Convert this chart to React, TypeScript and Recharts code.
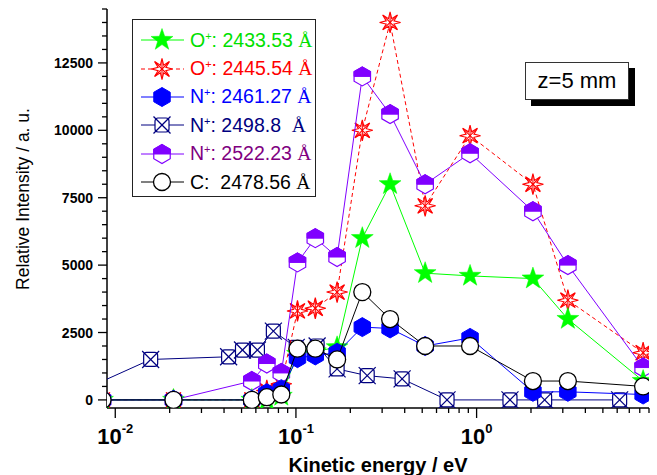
import React from "react";
import { ScatterChart, Scatter, XAxis, YAxis } from "recharts";

// kinetic energy (eV) of the common time-of-flight bins
const energy = [0.0085, 0.021, 0.057, 0.069, 0.083, 0.102, 0.128, 0.169, 0.233, 0.332, 0.519, 0.92, 2.05, 3.2, 8.35];
const o2433 = [0, 0, 0, 0, 150, 1700, 1800, 1950, 6000, 8000, 4700, 4600, 4500, 3000, 700];
const o2445 = [0, 0, 0, 350, 600, 3300, 3400, 4000, 10000, 14000, 7200, 9800, 8000, 3700, 1750];
const n2461 = [0, 0, 0, 250, 400, 1550, 1650, 1750, 2700, 2650, 2000, 2300, 300, 300, 200];
const n2522 = [0, 0, 700, 1350, 1000, 5100, 6000, 5300, 12000, 10600, 8000, 9150, 7000, 5000, 1200];
const c2478 = [0, 0, 0, 100, 200, 1900, 1900, 1500, 4000, 3000, 2000, 2000, 700, 700, 500];

// N+ 2498.8 line was sampled on its own energy grid
const energyN2498 = [0.005, 0.0157, 0.0424, 0.0506, 0.0612, 0.075, 0.1004, 0.131, 0.169, 0.248, 0.387, 0.686, 1.53, 2.38, 6.19];
const n2498 = [0, 1500, 1600, 1850, 1850, 2550, 1950, 2000, 1150, 900, 780, 0, 0, 0, 0];

const xTicks = [
  0.01, 0.02, 0.03, 0.04, 0.05, 0.06, 0.07, 0.08, 0.09,
  0.1, 0.2, 0.3, 0.4, 0.5, 0.6, 0.7, 0.8, 0.9,
  1, 2, 3, 4, 5, 6, 7, 8, 9,
];
const yMajor = [0, 2500, 5000, 7500, 10000, 12500];
const yTicks = Array.from({ length: 30 }, (_, i) => i * 500);

const zip = (xs: number[], ys: number[]) => xs.map((x, i) => ({ x, y: ys[i] }));

type Kind = "star" | "burst" | "hexFull" | "crossBox" | "hexHalf" | "circle";

const series = [
  { name: "N+ 2498.8", label: "N", sup: "+", wl: ": 2498.8  ", kind: "crossBox" as Kind, color: "#000080", text: "#000080", dash: undefined, data: zip(energyN2498, n2498) },
  { name: "O+ 2445.54", label: "O", sup: "+", wl: ": 2445.54 ", kind: "burst" as Kind, color: "#ff0000", text: "#ff0000", dash: "4 3", data: zip(energy, o2445) },
  { name: "N+ 2522.23", label: "N", sup: "+", wl: ": 2522.23 ", kind: "hexHalf" as Kind, color: "#8000ff", text: "#800080", dash: undefined, data: zip(energy, n2522) },
  { name: "O+ 2433.53", label: "O", sup: "+", wl: ": 2433.53 ", kind: "star" as Kind, color: "#00ff00", text: "#00e000", dash: undefined, data: zip(energy, o2433) },
  { name: "N+ 2461.27", label: "N", sup: "+", wl: ": 2461.27 ", kind: "hexFull" as Kind, color: "#0000ff", text: "#0000ff", dash: undefined, data: zip(energy, n2461) },
  { name: "C 2478.56", label: "C", sup: "", wl: ":  2478.56 ", kind: "circle" as Kind, color: "#000000", text: "#000000", dash: undefined, data: zip(energy, c2478) },
];
const legendOrder = ["O+ 2433.53", "O+ 2445.54", "N+ 2461.27", "N+ 2498.8", "N+ 2522.23", "C 2478.56"];

const pts = (arr: number[][]) => arr.map((p) => p.join(",")).join(" ");

function Marker({ kind, color, cx, cy }: { kind: Kind; color: string; cx: number; cy: number }) {
  if (cx == null || cy == null) return null;
  if (kind === "star") {
    const p = Array.from({ length: 10 }, (_, i) => {
      const r = i % 2 === 0 ? 11.5 : 4.6;
      const a = -Math.PI / 2 + (i * Math.PI) / 5;
      return [cx + r * Math.cos(a), cy + r * Math.sin(a)];
    });
    return <polygon points={pts(p)} fill={color} stroke={color} strokeWidth={0.5} />;
  }
  if (kind === "burst") {
    const p = Array.from({ length: 16 }, (_, i) => {
      const r = i % 2 === 0 ? 10.5 : 4.2;
      const a = -Math.PI / 2 + (i * Math.PI) / 8;
      return [cx + r * Math.cos(a), cy + r * Math.sin(a)];
    });
    return (
      <g stroke={color} strokeWidth={1.1}>
        <polygon points={pts(p)} fill="#fff" />
        <line x1={cx - 7} y1={cy - 7} x2={cx + 7} y2={cy + 7} />
        <line x1={cx - 7} y1={cy + 7} x2={cx + 7} y2={cy - 7} />
        <line x1={cx} y1={cy - 9} x2={cx} y2={cy + 9} />
      </g>
    );
  }
  if (kind === "hexFull" || kind === "hexHalf") {
    const R = 9.5;
    const w = R * 0.866;
    const hex = [[cx, cy - R], [cx + w, cy - R / 2], [cx + w, cy + R / 2], [cx, cy + R], [cx - w, cy + R / 2], [cx - w, cy - R / 2]];
    if (kind === "hexFull") return <polygon points={pts(hex)} fill={color} stroke={color} strokeWidth={1} />;
    const top = [[cx, cy - R], [cx + w, cy - R / 2], [cx + w, cy], [cx - w, cy], [cx - w, cy - R / 2]];
    return (
      <g>
        <polygon points={pts(hex)} fill="#fff" stroke={color} strokeWidth={1.2} />
        <polygon points={pts(top)} fill={color} stroke={color} strokeWidth={1} />
      </g>
    );
  }
  if (kind === "crossBox") {
    return (
      <g stroke={color} strokeWidth={1.2}>
        <rect x={cx - 7} y={cy - 7} width={14} height={14} rx={3} fill="#fff" />
        <line x1={cx - 8.5} y1={cy - 8.5} x2={cx + 8.5} y2={cy + 8.5} />
        <line x1={cx - 8.5} y1={cy + 8.5} x2={cx + 8.5} y2={cy - 8.5} />
      </g>
    );
  }
  return <circle cx={cx} cy={cy} r={8.5} fill="#fff" stroke={color} strokeWidth={1.3} />;
}

const XTick = ({ x, y, payload }: any) => {
  const lg = Math.log10(payload.value);
  const exp = Math.round(lg);
  const major = Math.abs(lg - exp) < 1e-6;
  return (
    <g>
      <line x1={x} x2={x} y1={y} y2={y + (major ? 10 : 5)} stroke="#000" strokeWidth={1.3} />
      {major && (
        <text x={x} y={y + 36} textAnchor="middle" fontFamily="Arial" fontWeight="bold" fontSize={22} fill="#000">
          10<tspan dy={-11} fontSize={13}>{exp}</tspan>
        </text>
      )}
    </g>
  );
};

const YTick = ({ x, y, payload }: any) => {
  const major = yMajor.includes(payload.value);
  return (
    <g>
      <line x1={x} x2={x - (major ? 9 : 5)} y1={y} y2={y} stroke="#000" strokeWidth={1.3} />
      {major && (
        <text x={x - 14} y={y + 5} textAnchor="end" fontFamily="Arial" fontWeight="bold" fontSize={14} fill="#000">
          {payload.value}
        </text>
      )}
    </g>
  );
};

function LegendBox() {
  return (
    <div style={{ position: "absolute", left: 132, top: 19, width: 182, height: 170, border: "1px solid #222", background: "#fff", paddingTop: 6, boxSizing: "content-box" }}>
      {legendOrder.map((n) => {
        const s = series.find((q) => q.name === n)!;
        return (
          <div key={n} style={{ display: "flex", alignItems: "center", height: 28.4 }}>
            <svg width={56} height={28} style={{ flex: "none" }}>
              <line x1={8} x2={51} y1={14} y2={14} stroke={s.color} strokeWidth={1} strokeDasharray={s.dash} />
              <Marker kind={s.kind} color={s.color} cx={29} cy={14} />
            </svg>
            <span style={{ color: s.text, fontFamily: "Arial", fontSize: 19.5, whiteSpace: "pre", marginLeft: 1 }}>
              {s.label}
              {s.sup ? <sup style={{ fontSize: 11 }}>{s.sup}</sup> : null}
              {s.wl}
              <span style={{ fontFamily: "Liberation Serif" }}>Å</span>
            </span>
          </div>
        );
      })}
    </div>
  );
}

export default function App() {
  return (
    <div style={{ position: "absolute", left: 0, top: 0, width: 657, height: 475, background: "#fff" }}>
      <ScatterChart width={657} height={475} margin={{ top: 9, right: 8, left: 47, bottom: 27 }}>
        <XAxis
          dataKey="x"
          type="number"
          scale="log"
          domain={[0.009, 9]}
          allowDataOverflow
          ticks={xTicks}
          interval={0}
          tick={<XTick />}
          tickLine={false}
          tickSize={0}
          tickMargin={0}
          height={40}
          stroke="#000"
          strokeWidth={1.5}
          label={() => (
            <text x={378} y={472} textAnchor="middle" fontFamily="Arial" fontWeight="bold" fontSize={20} fill="#000">
              Kinetic energy / eV
            </text>
          )}
        />
        <YAxis
          dataKey="y"
          type="number"
          domain={[-300, 14500]}
          allowDataOverflow
          ticks={yTicks}
          interval={0}
          tick={<YTick />}
          tickLine={false}
          tickSize={0}
          tickMargin={0}
          width={60}
          stroke="#000"
          strokeWidth={1.5}
          label={() => (
            <text x={29} y={199} transform="rotate(-90 29 199)" textAnchor="middle" fontFamily="Arial" fontSize={17.5} fill="#000">
              Relative Intensity / a. u.
            </text>
          )}
        />
        {series.map((s) => (
          <Scatter
            key={s.name}
            name={s.name}
            data={s.data}
            fill={s.color}
            line={{ stroke: s.color, strokeWidth: 1, strokeDasharray: s.dash }}
            lineJointType="linear"
            isAnimationActive={false}
            shape={(p: any) => <Marker kind={s.kind} color={s.color} cx={p.cx} cy={p.cy} />}
          />
        ))}
      </ScatterChart>
      <LegendBox />
      <div
        style={{
          position: "absolute", left: 525, top: 62, width: 102, height: 36, border: "1px solid #333", background: "#fff",
          boxShadow: "6px 6px 0 #000", fontFamily: "Arial", fontSize: 22, lineHeight: "36px", textAlign: "center",
        }}
      >
        z=5 mm
      </div>
    </div>
  );
}
